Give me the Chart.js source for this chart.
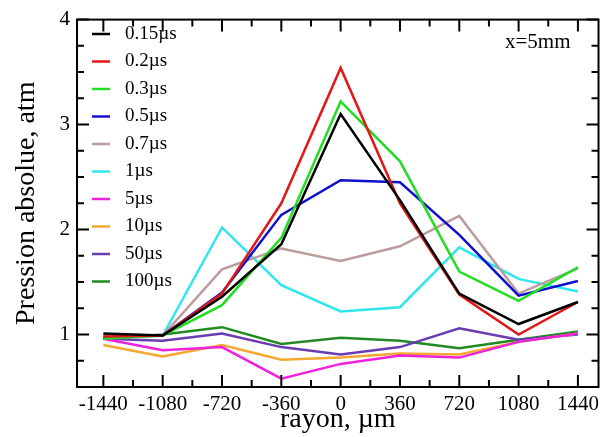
<!DOCTYPE html>
<html>
<head>
<meta charset="utf-8">
<script src="https://cdn.jsdelivr.net/npm/chart.js@4.4.1/dist/chart.umd.min.js"></script>
<style>
  html, body { margin: 0; padding: 0; background: #ffffff; }
  #wrap { width: 604px; height: 437px; }
</style>
</head>
<body>
<div id="wrap"><canvas id="pressureChart"></canvas></div>
<script>
// rayon positions (µm) and tick labels
const rayon = [-1440, -1080, -720, -360, 0, 360, 720, 1080, 1440];
const xTicks = [-1440, -1080, -720, -360, 0, 360, 720, 1080, 1440];
const yTicks = [1, 2, 3, 4];

const labels = ["0.15\u00b5s", "0.2\u00b5s", "0.3\u00b5s", "0.5\u00b5s", "0.7\u00b5s",
                "1\u00b5s", "5\u00b5s", "10\u00b5s", "50\u00b5s", "100\u00b5s"];

// absolute pressure (atm)
const p015 = [1.01, 0.99, 1.36, 1.86, 3.10, 2.28, 1.39, 1.10, 1.31];
const p02  = [0.98, 0.99, 1.39, 2.25, 3.54, 2.25, 1.38, 1.00, 1.31];
const p03  = [0.96, 0.99, 1.28, 1.92, 3.22, 2.65, 1.60, 1.32, 1.64];
const p05  = [0.97, 0.99, 1.40, 2.14, 2.47, 2.45, 1.95, 1.37, 1.51];
const p07  = [1.00, 0.99, 1.62, 1.82, 1.70, 1.84, 2.13, 1.39, 1.63];
const p1   = [0.99, 0.99, 2.02, 1.47, 1.22, 1.26, 1.83, 1.53, 1.41];
const p5   = [0.96, 0.85, 0.88, 0.58, 0.72, 0.80, 0.78, 0.93, 1.01];
const p10  = [0.90, 0.79, 0.90, 0.76, 0.78, 0.82, 0.81, 0.93, 1.01];
const p50  = [0.96, 0.94, 1.01, 0.88, 0.81, 0.88, 1.06, 0.95, 1.00];
const p100 = [0.96, 1.00, 1.07, 0.91, 0.97, 0.94, 0.87, 0.95, 1.03];

const series = [p015, p02, p03, p05, p07, p1, p5, p10, p50, p100];
const colors = ["#000000", "#e01818", "#22dd22", "#1010cc", "#bb9d9d",
                "#30e6ec", "#ee22dd", "#f4a830", "#6a3cb4", "#228a22"];

const serif = "'Liberation Serif', 'DejaVu Serif', serif";

// inward ticks on all four sides, frame, in-plot legend and annotation
const framePlugin = {
    id: "frame",
    afterDraw(chart) {
        const ctx = chart.ctx;
        const a = chart.chartArea;
        const xs = chart.scales.x, ys = chart.scales.y;
        ctx.save();
        ctx.strokeStyle = "#000000";
        ctx.lineWidth = 2;
        ctx.strokeRect(a.left, a.top, a.right - a.left, a.bottom - a.top);

        ctx.beginPath();
        for (let v = -1440; v <= 1440; v += 180) {
            const px = xs.getPixelForValue(v);
            const len = (v % 360 === 0) ? 12 : 7;
            ctx.moveTo(px, a.bottom); ctx.lineTo(px, a.bottom - len);
            ctx.moveTo(px, a.top); ctx.lineTo(px, a.top + len);
        }
        for (let v = 0.5; v <= 4.001; v += 0.25) {
            const py = ys.getPixelForValue(v);
            const len = (Math.abs(v - Math.round(v)) < 1e-6) ? 12 : 7;
            ctx.moveTo(a.left, py); ctx.lineTo(a.left + len, py);
            ctx.moveTo(a.right, py); ctx.lineTo(a.right - len, py);
        }
        ctx.stroke();

        // legend
        ctx.font = "19px " + serif;
        ctx.textBaseline = "middle";
        ctx.textAlign = "left";
        chart.data.datasets.forEach((ds, i) => {
            const y = 34 + i * 27.5;
            ctx.strokeStyle = ds.borderColor;
            ctx.lineWidth = 2.5;
            ctx.beginPath();
            ctx.moveTo(92, y); ctx.lineTo(110, y);
            ctx.stroke();
            ctx.fillStyle = "#000000";
            ctx.fillText(ds.label, 125, y);
        });

        ctx.font = "21px " + serif;
        ctx.fillText("x=5mm", 505, 42);
        ctx.restore();
    }
};

const ctx = document.getElementById("pressureChart").getContext("2d");

new Chart(ctx, {
    type: "line",
    data: {
        datasets: series.map((s, i) => ({
            label: labels[i],
            data: s.map((v, j) => ({ x: rayon[j], y: v })),
            borderColor: colors[i],
            backgroundColor: colors[i],
            borderWidth: 2.5,
            pointRadius: 0,
            tension: 0,
            fill: false
        }))
    },
    options: {
        responsive: true,
        maintainAspectRatio: false,
        animation: false,
        layout: { padding: { top: 15, right: 2, left: 0, bottom: 0 } },
        plugins: {
            legend: { display: false },
            tooltip: { enabled: false }
        },
        scales: {
            x: {
                type: "linear",
                min: -1600,
                max: 1565,
                afterFit: s => { s.height = 50; },
                afterBuildTicks: s => { s.ticks = xTicks.map(v => ({ value: v })); },
                grid: { display: false, drawTicks: false },
                border: { display: false },
                ticks: {
                    color: "#000000",
                    padding: 5,
                    maxRotation: 0,
                    autoSkip: false,
                    font: { family: serif, size: 21 },
                    callback: v => String(v)
                },
                title: {
                    display: true,
                    text: "rayon, \u00b5m",
                    color: "#000000",
                    font: { family: serif, size: 28, lineHeight: 1 },
                    padding: { top: 0, bottom: 3 }
                }
            },
            y: {
                min: 0.5,
                max: 4,
                afterFit: s => { s.width = 77; },
                afterBuildTicks: s => { s.ticks = yTicks.map(v => ({ value: v })); },
                grid: { display: false, drawTicks: false },
                border: { display: false },
                ticks: {
                    color: "#000000",
                    padding: 7,
                    font: { family: serif, size: 21 },
                    callback: v => String(v)
                },
                title: {
                    display: true,
                    text: "Pression absolue, atm",
                    color: "#000000",
                    font: { family: serif, size: 28, lineHeight: 1 },
                    padding: { top: 13, bottom: 0 }
                }
            }
        }
    },
    plugins: [framePlugin]
});
</script>
</body>
</html>
